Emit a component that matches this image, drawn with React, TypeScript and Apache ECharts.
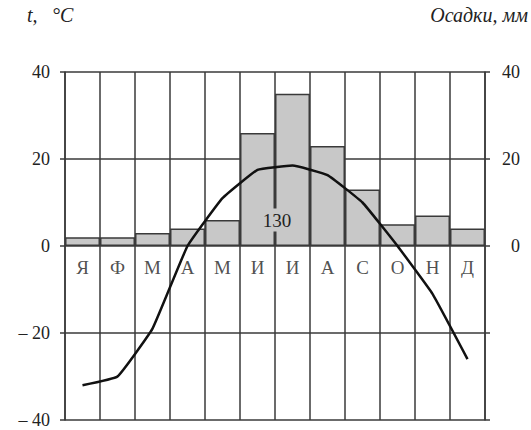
import React, { useEffect, useRef } from "react";
import * as echarts from "echarts";

const months = ["Я", "Ф", "М", "А", "М", "И", "И", "А", "С", "О", "Н", "Д"];
const precipitation = [2, 2, 3, 4, 6, 26, 35, 23, 13, 5, 7, 4];
const temperature = [-32, -30, -19, 0, 11, 17.5, 18.5, 16.3, 10, 0, -11, -26];
const monthLabelLevel = [-5, -5, -5, -5, -5, -5, -5, -5, -5, -5, -5, -5];

const SERIF = "Liberation Serif";
const LINE = "#3a3a3a";

export default function App() {
  const ref = useRef<HTMLDivElement>(null);
  useEffect(() => {
    if (!ref.current) return;
    const chart = echarts.init(ref.current, null, { renderer: "svg" });
    const total = precipitation.reduce((a, b) => a + b, 0);
    chart.setOption({
      animation: false,
      backgroundColor: "#ffffff",
      textStyle: { fontFamily: SERIF },
      grid: { left: 65, right: 46, top: 72, bottom: 10 },
      graphic: [
        {
          type: "text",
          left: 27,
          top: 5,
          style: { text: "t,", fontFamily: SERIF, fontStyle: "italic", fontSize: 20, fill: "#222" },
        },
        {
          type: "text",
          left: 52,
          top: 5,
          style: { text: "°C", fontFamily: SERIF, fontStyle: "italic", fontSize: 20, fill: "#222" },
        },
        {
          type: "text",
          right: 3,
          top: 5,
          style: { text: "Осадки, мм", fontFamily: SERIF, fontStyle: "italic", fontSize: 20, fill: "#222" },
        },
        {
          type: "text",
          x: 277,
          y: 220,
          z: 100,
          style: {
            text: String(total),
            fontFamily: SERIF,
            fontSize: 19,
            fill: "#222",
            align: "center",
            verticalAlign: "middle",
            backgroundColor: "#c8c8c8",
            padding: [2, 1],
          },
        },
      ],
      xAxis: {
        type: "category",
        data: months,
        boundaryGap: true,
        axisLine: { show: false },
        axisTick: { show: false },
        axisLabel: { show: false },
        splitLine: { show: true, lineStyle: { color: LINE, width: 1.5 } },
      },
      yAxis: [
        {
          type: "value",
          min: -40,
          max: 40,
          interval: 20,
          position: "left",
          axisLine: { show: true, lineStyle: { color: LINE, width: 1.5 } },
          axisTick: { show: true, inside: false, length: 5, lineStyle: { color: LINE, width: 1.5 } },
          axisLabel: {
            margin: 15,
            color: "#222",
            fontFamily: SERIF,
            fontSize: 18,
            formatter: (v: number) => (v < 0 ? "– " + Math.abs(v) : String(v)),
          },
          splitLine: { show: true, lineStyle: { color: LINE, width: 1.5 } },
        },
        {
          type: "value",
          min: -40,
          max: 40,
          interval: 20,
          position: "right",
          axisLine: { show: true, lineStyle: { color: LINE, width: 1.5 } },
          axisTick: { show: true, inside: false, length: 5, lineStyle: { color: LINE, width: 1.5 } },
          axisLabel: {
            margin: 35,
            align: "right",
            color: "#222",
            fontFamily: SERIF,
            fontSize: 18,
            formatter: (v: number) => (v < 0 ? "" : String(v)),
          },
          splitLine: { show: false },
        },
      ],
      series: [
        {
          type: "bar",
          yAxisIndex: 1,
          data: precipitation,
          barWidth: "100%",
          barCategoryGap: 0,
          itemStyle: { color: "#c8c8c8", borderColor: LINE, borderWidth: 1.5 },
          z: 1,
        },
        {
          type: "line",
          yAxisIndex: 0,
          data: temperature,
          smooth: 0.1,
          symbol: "none",
          lineStyle: { color: "#111", width: 2.5 },
          z: 5,
        },
        {
          type: "scatter",
          yAxisIndex: 0,
          data: monthLabelLevel,
          symbolSize: 0,
          itemStyle: { color: "rgba(0,0,0,0)" },
          label: {
            show: true,
            position: "inside",
            formatter: (p: any) => months[p.dataIndex],
            fontFamily: SERIF,
            fontSize: 19,
            color: "#222",
          },
          z: 3,
        },
      ],
    });
    return () => chart.dispose();
  }, []);
  return (
    <div
      ref={ref}
      style={{ position: "fixed", left: 0, top: 0, width: 531, height: 430 }}
    />
  );
}
